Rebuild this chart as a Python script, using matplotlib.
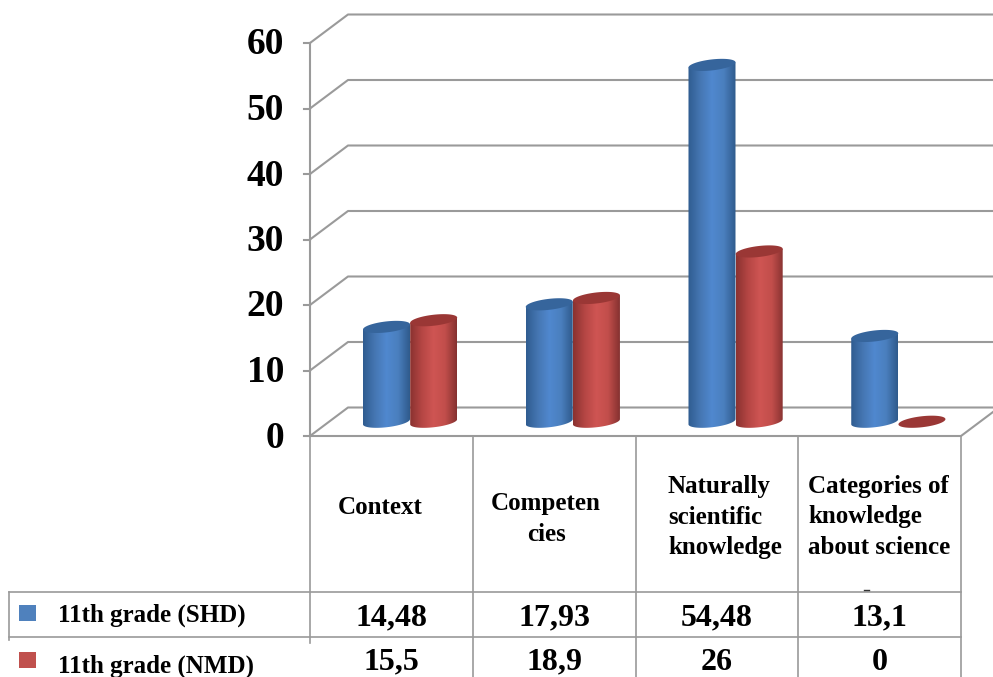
import numpy as np
import matplotlib.pyplot as plt
from matplotlib.colors import LinearSegmentedColormap
from matplotlib.patches import Polygon, Rectangle

categories = ['Context', 'Competen\ncies', 'Naturally\nscientific\nknowledge',
              'Categories of\nknowledge\nabout science']
series_names = ['11th grade (SHD)', '11th grade (NMD)']
shd = [14.48, 17.93, 54.48, 13.1]
nmd = [15.5, 18.9, 26, 0]
y_ticks = [0, 10, 20, 30, 40, 50, 60]

W, H = 993, 677
X0, Y0 = 310, 436
PX_X = 162.75    # pixels per category
PX_Y = 6.55      # pixels per unit of value
DEPTH_X = 38 / PX_X
DEPTH_Y = 28.5 / PX_Y
GRID = '#9a9a9a'
SERIF = 'Liberation Serif'

fig = plt.figure(figsize=(W / 100, H / 100), dpi=100)
ax = fig.add_axes([0, 0, 1, 1])
xlim = (-X0 / PX_X, (W - X0) / PX_X)
ylim = (-(H - Y0) / PX_Y, Y0 / PX_Y)
ax.axis('off')


def px_x(x):
    return (x - X0) / PX_X


def px_y(y):
    return (Y0 - y) / PX_Y


# walls and floor
for t in y_ticks:
    ax.plot([0, DEPTH_X, xlim[1]], [t, t + DEPTH_Y, t + DEPTH_Y], color=GRID, lw=1.5, zorder=1)
    ax.plot([px_x(304), 0], [t, t], color=GRID, lw=1.5, zorder=1)
    ax.text(px_x(284), t - 2 / PX_Y, str(t), ha='right', va='center', fontsize=27,
            family=SERIF, fontweight='bold', color='black')
ax.plot([0, 0], [0, 60], color=GRID, lw=1.5, zorder=1)
ax.plot([0, 4, 4 + DEPTH_X], [0, 0, DEPTH_Y], color=GRID, lw=1.5, zorder=1)


def cylinder(xc, value, cmap, cap_color):
    # tilted ellipses in pixel units, converted back to data units
    a, b, k = 23.5, 5.5, 0.11
    base = DEPTH_Y / 2
    t = np.linspace(0, 2 * np.pi, 121)
    ex = a * np.cos(t) / PX_X
    ey = (b * np.sin(t) + k * a * np.cos(t)) / PX_Y
    if value > 0:
        lower = t[60:121]
        lx = a * np.cos(lower) / PX_X
        ly = (b * np.sin(lower) + k * a * np.cos(lower)) / PX_Y
        body = np.column_stack([
            np.r_[xc + lx, xc + lx[-1], xc + lx[0]],
            np.r_[base + ly, base + value + ly[-1], base + value + ly[0]],
        ])
        clip = Polygon(body, closed=True, transform=ax.transData, fc='none', ec='none')
        ax.add_patch(clip)
        img = ax.imshow(np.linspace(0, 1, 128)[None, :], cmap=cmap, aspect='auto',
                        extent=(xc - a / PX_X, xc + a / PX_X, base - 2, base + value + 2),
                        zorder=3)
        img.set_clip_path(clip)
    ax.fill(xc + ex, base + value + ey, color=cap_color, lw=0, zorder=4)


blue_map = LinearSegmentedColormap.from_list('blue_side', ['#2f5c90', '#4576b2', '#5088cf', '#4a7fbe', '#2f5a8c'])
red_map = LinearSegmentedColormap.from_list('red_side', ['#8a3230', '#b54644', '#cf5553', '#c24e4b', '#853130'])

for i in range(len(categories)):
    cylinder(i + 0.47, shd[i], blue_map, '#36659c')
    cylinder(i + 0.76, nmd[i], red_map, '#9a3735')

# data table below the floor
for i in range(5):
    bottom = 643 if i == 0 else H
    ax.plot([i, i], [0, px_y(bottom)], color=GRID, lw=1.2, zorder=1)
ax.plot([px_x(9), 4], [px_y(592), px_y(592)], color=GRID, lw=1.2)
ax.plot([px_x(9), 4], [px_y(637), px_y(637)], color=GRID, lw=1.2)
ax.plot([px_x(9), px_x(9)], [px_y(592), px_y(640)], color=GRID, lw=1.2)

label_x = [380, 546, 668, 808]
label_ha = ['center', 'center', 'left', 'left']
label_y = [507, 519, 517, 517]
for i, name in enumerate(categories):
    ax.text(px_x(label_x[i]), px_y(label_y[i]), name, ha=label_ha[i], va='center',
            multialignment=label_ha[i], fontsize=18, family=SERIF, fontweight='bold',
            linespacing=1.4)
ax.plot([px_x(864), px_x(869)], [px_y(590), px_y(590)], color='#333333', lw=1)

for row, (vals, y_row) in enumerate(zip([shd, nmd], [618, 662])):
    for i, v in enumerate(vals):
        ax.text(i + 0.5, px_y(y_row), f'{v:g}'.replace('.', ','), ha='center', va='center',
                fontsize=23, family=SERIF, fontweight='bold')

key_colors = ['#4f81bd', '#c0504d']
key_y = [613, 660]
text_y = [615, 666]
for name, c, ky, ty in zip(series_names, key_colors, key_y, text_y):
    ax.add_patch(Rectangle((px_x(19), px_y(ky + 8)), 17 / PX_X, 16 / PX_Y, fc=c, ec='none'))
    ax.text(px_x(58), px_y(ty), name, ha='left', va='center', fontsize=18,
            family=SERIF, fontweight='bold')

ax.set_xlim(xlim)
ax.set_ylim(ylim)
fig.savefig('out.png', dpi=100, facecolor='white')
